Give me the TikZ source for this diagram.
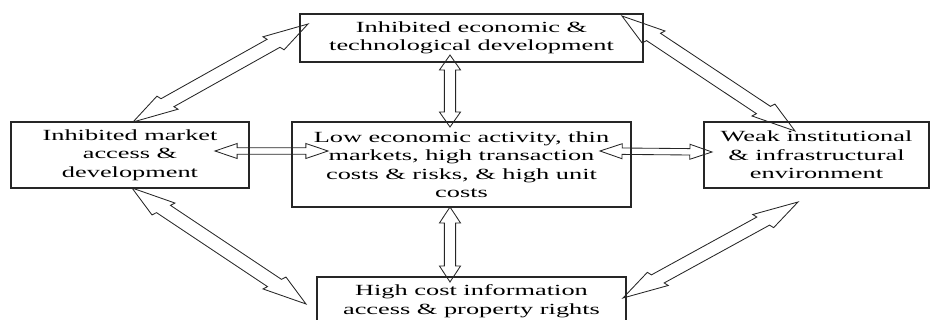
\documentclass[tikz,border=0pt]{standalone}
\usepackage{fontspec}
\setmainfont{Liberation Serif}[FakeStretch=1.7]
\usetikzlibrary{calc}
\def\sx{1.7}
\newcommand\bpt[2]{({\x1+\sx*((#1)*cos(\n1)-(#2)*sin(\n1))},{\y1+(#1)*sin(\n1)+(#2)*cos(\n1)})}
\newcommand\blockarr[5]{%
  \draw[arr] let \p1=(#1), \p2=(#2),
    \n1={atan2(\y2-\y1,(\x2-\x1)/\sx)},
    \n2={veclen((\x2-\x1)/\sx,\y2-\y1)} in
    (\p1) -- \bpt{#3}{#4} -- \bpt{#3}{#5} -- \bpt{\n2-#3}{#5} -- \bpt{\n2-#3}{#4} -- (\p2)
    -- \bpt{\n2-#3}{-#4} -- \bpt{\n2-#3}{-#5} -- \bpt{#3}{-#5} -- \bpt{#3}{-#4} -- cycle;}
\tikzset{
  box/.style={draw=black!85, line width=1.1pt, align=center, inner sep=0pt,
    font=\fontsize{15.5}{18.5}\selectfont, text=black},
  arr/.style={draw=black!85, line width=0.85pt, line join=miter}
}
\begin{document}
\begin{tikzpicture}[x=1pt,y=-1pt]
\useasboundingbox (0,0) rectangle (930,320);
\node[box, minimum width=343pt, minimum height=48pt] (top) at (471.5,38)
  {Inhibited economic \&\\technological development};
\node[box, minimum width=238pt, minimum height=66pt] (left) at (130,155)
  {Inhibited market\\access \&\\development};
\node[box, minimum width=339pt, minimum height=85pt] (mid) at (461.5,164.5)
  {Low economic activity, thin\\markets, high transaction\\costs \& risks, \& high unit\\costs};
\node[box, minimum width=225pt, minimum height=66pt] (right) at (816.5,155)
  {Weak institutional\\\& infrastructural\\environment};
\node[box, minimum width=309pt, minimum height=48pt] (bot) at (471.5,301)
  {High cost information\\access \& property rights};
% arrow end points
\coordinate (v1a) at (450,55);  \coordinate (v1b) at (450,127);
\coordinate (v2a) at (450,207); \coordinate (v2b) at (450,282);
\coordinate (h1a) at (215,151); \coordinate (h1b) at (328,151);
\coordinate (h2a) at (600,151); \coordinate (h2b) at (712,152);
\coordinate (d1a) at (133,122); \coordinate (d1b) at (308,24);
\coordinate (d2a) at (622,16);  \coordinate (d2b) at (795,131);
\coordinate (d3a) at (132,188); \coordinate (d3b) at (306,304);
\coordinate (d4a) at (798,202); \coordinate (d4b) at (623,298);
\blockarr{v1a}{v1b}{15}{6.2}{3.3}
\blockarr{v2a}{v2b}{16}{6.2}{3.3}
\blockarr{h1a}{h1b}{13}{7.5}{3.2}
\blockarr{h2a}{h2b}{13}{7.5}{3.2}
\blockarr{d1a}{d1b}{28}{9}{5.5}
\blockarr{d2a}{d2b}{28}{9}{5.5}
\blockarr{d3a}{d3b}{28}{9}{5.5}
\blockarr{d4a}{d4b}{28}{9}{5.5}
\end{tikzpicture}
\end{document}
